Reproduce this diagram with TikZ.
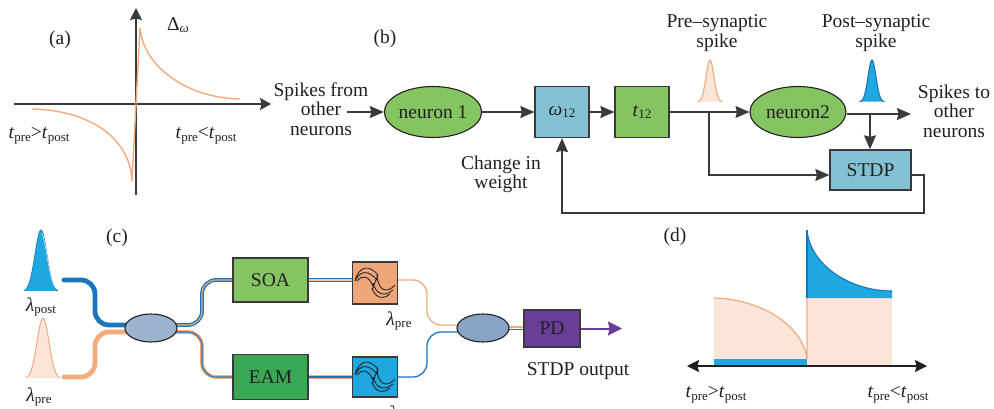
\documentclass[tikz,border=0pt]{standalone}
\usepackage{fontspec}
\setmainfont{Liberation Serif}
\usetikzlibrary{arrows.meta,shapes.geometric}
\pgfdeclarelayer{bg}
\pgfsetlayers{bg,main}
\definecolor{ink}{HTML}{231F20}
\definecolor{gline}{HTML}{3A3A3C}
\definecolor{ngreen}{HTML}{84C562}
\definecolor{boxblue}{HTML}{83C2D4}
\definecolor{peach}{HTML}{FBE5D8}
\definecolor{orng}{HTML}{F4AB7C}
\definecolor{sky}{HTML}{1FA8E0}
\definecolor{deep}{HTML}{1B75BC}
\definecolor{eamgreen}{HTML}{39A855}
\definecolor{purp}{HTML}{693D98}
\definecolor{filto}{HTML}{EFA77A}
\definecolor{cpl}{HTML}{9CB3CE}
\definecolor{cplb}{HTML}{88A4C4}
\newcommand{\ts}[2]{\textit{#1}{\fontsize{13}{13}\selectfont\raisebox{-2.5pt}{#2}}}
\tikzset{
  txt/.style={font=\fontsize{19.5}{19.5}\selectfont,text=ink,align=center,inner sep=0pt},
  neuronnode/.style={shape=ellipse,draw=ink,line width=1.1pt,fill=ngreen,txt},
  blockbox/.style={draw=gline,line width=1.3pt,inner sep=0pt,txt},
  conn/.style={draw=gline,line width=1.2pt},
  arr/.style={conn,-{Stealth[length=14pt,width=12pt,inset=1.5pt]}},
  axisline/.style={draw=gline,line width=1.3pt},
  coupler/.style={shape=ellipse,draw=ink,line width=1.1pt,minimum width=52pt,minimum height=28pt,inner sep=0pt},
  thickfib/.style={line width=4.8pt,rounded corners=14pt,line cap=round},
  fibre/.style={rounded corners=14pt,line width=3.8pt},
  fibrein/.style={rounded corners=14pt,line width=1.1pt},
  thinfib/.style={rounded corners=14pt,line width=1.3pt},
  filterglyph/.pic={
    \draw[ink,line width=0.85pt]
      (-20,-2) .. controls (-16,-18) and (-5,-18) .. (3,-8)
      (-20,-2) .. controls (-15,-13) and (-6,-13) .. (2,-3)
      (-18,-2) .. controls (-13,-8) and (-7,-8) .. (-2,3)
      (2,-8) .. controls (3,8) and (12,11) .. (20,2)
      (-2,0) .. controls (1,12) and (10,14) .. (18,7)
      (-3,5) .. controls (0,15) and (8,17) .. (15,11)
      (-3,7) -- (3,-8);
  }
}
\begin{document}
\begin{tikzpicture}[x=1pt,y=-1pt]
\useasboundingbox (0,0) rectangle (994,408);
\clip (0,0) rectangle (994,408);

%% panel (a)
\coordinate (ay0) at (136,195);
\coordinate (ay1) at (136,8);
\coordinate (ax0) at (14,104);
\coordinate (ax1) at (271,104);
\draw[axisline,-{Stealth[length=12pt,width=12pt,inset=1.5pt]}] (ay0) -- (ay1);
\draw[axisline,-{Stealth[length=11pt,width=12pt,inset=1.5pt]}] (ax0) -- (ax1);
\draw[orng,line width=1.4pt] (136,104) -- (140,28) .. controls (143,65) and (185,98) .. (240,99);
\draw[orng,line width=1.4pt] (32,109) .. controls (85,110) and (130,135) .. (132,181) -- (136,104);
\node[txt] (la) at (60,40) {(a)};
\node[txt] (ldw) at (178,25) {Δ\raisebox{-2.5pt}{\fontsize{13}{13}\selectfont\textit{ω}}};
\node[txt] (ta1) at (39,136) {\ts{t}{pre}>\ts{t}{post}};
\node[txt] (ta2) at (206,136) {\ts{t}{pre}<\ts{t}{post}};

%% panel (b)
\node[txt] (lb) at (385,39) {(b)};
\node[txt] (sfrom) at (321,109) {Spikes from\\other\\neurons};
\coordinate (sfromend) at (347,112);
\node[neuronnode,minimum width=97pt,minimum height=51pt] (n1) at (433,112) {neuron 1};
\node[blockbox,fill=boxblue,minimum width=54pt,minimum height=51pt] (w12) at (562,112) {\textit{ω}{\fontsize{13}{13}\selectfont\raisebox{-2.5pt}{12}}};
\node[blockbox,fill=ngreen,minimum width=54pt,minimum height=51pt] (t12) at (642,112) {\ts{t}{12}};
\node[neuronnode,minimum width=96pt,minimum height=51pt] (n2) at (798,112) {neuron2};
\node[blockbox,fill=boxblue,minimum width=81pt,minimum height=40pt] (stdp) at (870.5,170) {STDP};
\coordinate (nout) at (911,114);
\coordinate (b1) at (709,112);
\coordinate (b2) at (709,175);
\coordinate (b3) at (870,114);
\coordinate (r1) at (924,175);
\coordinate (r2) at (924,213);
\coordinate (r3) at (562,213);
\draw[arr] (sfromend) -- (n1.west);
\draw[arr] (n1.east) -- (w12.west);
\draw[arr] (w12.east) -- (t12.west);
\draw[arr] (t12.east) -- (n2.west);
\draw[arr] (b1) -- (b2) -- (b2 -| stdp.west);
\draw[arr] (n2.east |- nout) -- (nout);
\draw[arr] (b3) -- (stdp.north -| b3);
\draw[arr] (stdp.east |- r1) -- (r1) -- (r2) -- (r3) -- (w12.south);
\node[txt] (chg) at (501,174.5) {Change in\\weight};
\node[txt] (pre) at (717,33) {Pre–synaptic\\spike};
\node[txt] (post) at (876,33) {Post–synaptic\\spike};
\node[txt] (sto) at (954,111) {Spikes to\\other\\neurons};
\draw[orng,fill=peach,line width=1.1pt] plot[domain=-1:1,samples=41,smooth] ({710+12.5*\x},{102-42*exp(-5*\x*\x)});
\draw[deep,fill=sky,line width=1.1pt] plot[domain=-1:1,samples=41,smooth] ({872+12.5*\x},{102-42*exp(-5*\x*\x)});

%% panel (c)
\node[txt] (lc) at (117,238) {(c)};
\draw[deep!80!sky,fill=sky,line width=0.8pt] plot[domain=-1:1,samples=41,smooth] ({41+17*\x},{292-62*exp(-4*\x*\x)});
\draw[white,line width=0.5pt] plot[domain=0.05:0.9,samples=21,smooth] ({41+17*\x},{291-58*exp(-4*\x*\x)});
\draw[orng,fill=peach,line width=1pt] plot[domain=-1:1,samples=41,smooth] ({43+17*\x},{379-61*exp(-4*\x*\x)});
\node[txt] (lpost) at (41,307) {\ts{λ}{post}};
\node[txt] (lpre) at (39,397) {\ts{λ}{pre}};
\node[coupler,fill=cpl] (c1) at (151,328) {};
\node[coupler,fill=cplb] (c2) at (483,328) {};
\node[blockbox,fill=ngreen,minimum width=75pt,minimum height=44pt] (soa) at (270.5,280) {SOA};
\node[blockbox,fill=eamgreen,minimum width=75pt,minimum height=45pt] (eam) at (270.5,377) {EAM};
\node[blockbox,fill=filto,minimum width=45pt,minimum height=42pt] (f1) at (375,283) {};
\node[blockbox,fill=sky,minimum width=45pt,minimum height=40pt] (f2) at (375,377) {};
\node[blockbox,fill=purp,minimum width=56pt,minimum height=37pt] (pd) at (552,328.5) {PD};
\coordinate (inb) at (64,280);
\coordinate (ino) at (64,377);
\coordinate (c1w) at (135,325);
\coordinate (c1wb) at (135,332);
\coordinate (c1e) at (167,325);
\coordinate (c1eb) at (167,332);
\coordinate (c2w) at (467,325);
\coordinate (c2wb) at (467,332);
\coordinate (c2e) at (500,327);
\coordinate (c2eb) at (500,329.5);
\coordinate (pdend) at (622,328.5);
\begin{pgfonlayer}{bg}
\draw[deep,thickfib] (inb) -- (95,280) -- (95,325) -- (c1w);
\draw[orng,thickfib] (ino) -- (95,377) -- (95,332) -- (c1wb);
\draw[deep,fibre] (c1e) -- (202,325) -- (202,280) -- (soa.west);
\draw[orng,fibrein] (c1e) -- (202,325) -- (202,280) -- (soa.west);
\draw[orng,fibre] (c1eb) -- (202,332) -- (202,377) -- (eam.west);
\draw[deep,fibrein] (c1eb) -- (202,332) -- (202,377) -- (eam.west);
\draw[deep,line width=3.8pt] (soa.east) -- (soa.east -| f1.west);
\draw[orng!70!white,line width=1.1pt] (soa.east) -- (soa.east -| f1.west);
\draw[orng,line width=3.8pt] (eam.east) -- (f2.west);
\draw[deep,line width=1.1pt] (eam.east) -- (f2.west);
\draw[orng,thinfib] (soa.east -| f1.east) -- (427,280) -- (427,325) -- (c2w);
\draw[deep,thinfib] (f2.east) -- (427,377) -- (427,332) -- (c2wb);
\draw[orng,line width=1.3pt] (c2e) -- (c2e -| pd.west);
\draw[deep,line width=1.7pt] (c2eb) -- (c2eb -| pd.west);
\end{pgfonlayer}
\pic at (f1.center) {filterglyph};
\pic at (f2.center) {filterglyph};
\draw[purp,line width=2pt,-{Stealth[length=14pt,width=14pt,inset=1.5pt]}] (pd.east) -- (pdend);
\node[txt] (lf1) at (399,321) {\ts{λ}{pre}};
\node[txt] (lf2) at (404,415) {\ts{λ}{post}};
\node[txt] (sout) at (578,371) {STDP output};

%% panel (d)
\node[txt] (ld) at (675,237) {(d)};
\fill[peach] (714,298) .. controls (760,299) and (803,325) .. (807,359) -- (714,359) -- cycle;
\fill[sky] (714,359) rectangle (807,366);
\fill[peach] (807,298) rectangle (892,366);
\fill[sky] (807,230) .. controls (810,265) and (850,291) .. (892,291) -- (892,298) -- (807,298) -- cycle;
\draw[deep,line width=1.1pt] (807,230) .. controls (810,265) and (850,291) .. (892,291);
\draw[deep,line width=1.1pt] (807,230) -- (807,298);
\draw[orng,line width=1.2pt] (714,298) .. controls (760,299) and (803,325) .. (807,359) -- (807,298);
\coordinate (dl) at (687,366);
\coordinate (dr) at (927,366);
\draw[draw=ink,line width=1.3pt,{Stealth[length=12pt,width=12pt,inset=1.5pt]}-{Stealth[length=12pt,width=12pt,inset=1.5pt]}] (dl) -- (dr);
\node[txt] (td1) at (716,395) {\ts{t}{pre}>\ts{t}{post}};
\node[txt] (td2) at (898,395) {\ts{t}{pre}<\ts{t}{post}};
\end{tikzpicture}
\end{document}
